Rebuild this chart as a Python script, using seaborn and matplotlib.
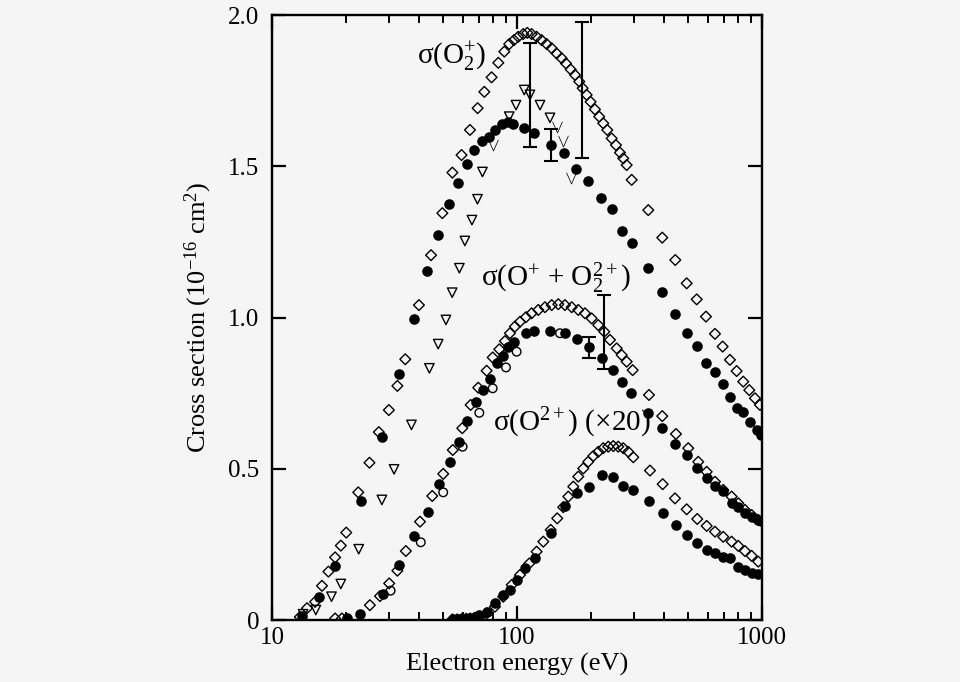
import numpy as np
import pandas as pd
import matplotlib
matplotlib.use("Agg")
import matplotlib.pyplot as plt
import seaborn as sns

# ---- sigma(O2+) ----
o2p_dia_e = [13.0, 13.9, 15.0, 16.0, 17.0, 18.1, 19.1, 20.1, 22.5, 25.0, 27.3, 30.0, 32.5, 35.0, 39.8,
             44.6, 49.6, 54.5, 59.4, 64.3, 69.1, 73.6, 78.8, 83.9, 88.8, 93.0, 97.2, 101.2, 106.1,
             110.2, 114.8, 120.3, 126.1, 132.2, 138.6, 145.2, 152.2, 158.5, 165.7, 172.5, 179.6,
             185.4, 192.5, 199.8, 208.1, 216.7, 225.0, 233.7, 243.5, 253.6, 263.3, 271.6, 280.4,
             293.9, 343.6, 391.8, 442.8, 492.9, 541.6, 590.8, 643.1, 691.1, 740.2, 788.2, 838.8,
             887.7, 936.3, 981.3]
o2p_dia_y = [0.010, 0.039, 0.060, 0.113, 0.160, 0.207, 0.246, 0.289, 0.422, 0.520, 0.621, 0.694, 0.774,
             0.862, 1.041, 1.206, 1.345, 1.479, 1.537, 1.620, 1.692, 1.746, 1.794, 1.842, 1.879,
             1.904, 1.917, 1.928, 1.937, 1.941, 1.937, 1.928, 1.917, 1.904, 1.890, 1.873, 1.857,
             1.840, 1.820, 1.802, 1.780, 1.758, 1.736, 1.713, 1.688, 1.664, 1.642, 1.620, 1.592,
             1.570, 1.545, 1.526, 1.504, 1.455, 1.355, 1.264, 1.190, 1.113, 1.060, 1.003, 0.946,
             0.904, 0.860, 0.823, 0.788, 0.760, 0.733, 0.711]

o2p_dot_e = [13.3, 15.6, 18.1, 23.0, 28.1, 33.0, 38.0, 42.8, 47.7, 52.8, 57.6, 62.6, 66.9, 71.8,
             76.9, 81.3, 86.6, 91.6, 96.6, 107.1, 117.3, 137.7, 155.5, 174.1, 195.4, 219.6, 243.5,
             269.1, 293.9, 343.6, 391.8, 442.8, 492.9, 541.6, 590.8, 643.1, 691.1, 740.2, 788.2,
             838.8, 893.3, 951.5, 990.6]
o2p_dot_y = [0.012, 0.077, 0.179, 0.394, 0.606, 0.813, 0.994, 1.155, 1.273, 1.374, 1.444, 1.506,
             1.555, 1.584, 1.596, 1.620, 1.640, 1.646, 1.640, 1.625, 1.611, 1.570, 1.543, 1.491,
             1.451, 1.394, 1.358, 1.286, 1.245, 1.163, 1.083, 1.011, 0.948, 0.906, 0.851, 0.819,
             0.780, 0.736, 0.702, 0.687, 0.656, 0.628, 0.612]

o2p_tri_e = [13.4, 15.1, 17.5, 19.1, 22.6, 28.1, 31.5, 37.1, 43.9, 47.7, 51.3, 54.4, 58.2, 61.3,
             65.5, 69.0, 72.3, 93.0, 99.1, 107.1, 113.0, 124.2, 136.4]
o2p_tri_y = [0.019, 0.033, 0.077, 0.119, 0.234, 0.397, 0.498, 0.645, 0.832, 0.912, 0.992, 1.082,
             1.163, 1.253, 1.322, 1.391, 1.481, 1.664, 1.702, 1.752, 1.736, 1.702, 1.660]

o2p_chk_e = [80.1, 146.0, 154.5, 165.7]
o2p_chk_y = [1.570, 1.631, 1.585, 1.460]

# ---- sigma(O+ + O2 2+) ----
sum_dia_e = [18.1, 19.3, 25.1, 27.6, 30.1, 32.5, 35.2, 40.2, 45.1, 50.0, 54.7, 59.8, 64.7, 69.5,
             75.2, 79.6, 84.7, 89.3, 93.6, 98.1, 102.9, 108.8, 114.8, 122.2, 130.1, 138.6, 147.5,
             157.0, 167.3, 177.9, 189.5, 201.8, 214.7, 227.2, 239.7, 255.3, 267.5, 280.4, 296.7,
             345.8, 391.8, 445.7, 500.2, 549.5, 594.8, 643.1, 695.0, 752.0, 800.5, 852.1, 907.8,
             965.8]
sum_dia_y = [0.005, 0.005, 0.049, 0.079, 0.121, 0.163, 0.228, 0.325, 0.410, 0.483, 0.562, 0.634,
             0.711, 0.768, 0.824, 0.868, 0.895, 0.922, 0.948, 0.970, 0.986, 1.001, 1.014, 1.025,
             1.034, 1.041, 1.044, 1.041, 1.034, 1.025, 1.014, 0.997, 0.975, 0.953, 0.926, 0.898,
             0.876, 0.854, 0.826, 0.744, 0.674, 0.615, 0.568, 0.523, 0.490, 0.457, 0.430, 0.408,
             0.386, 0.364, 0.347, 0.331]

sum_dot_e = [20.3, 22.9, 28.3, 33.1, 38.1, 43.2, 48.0, 53.3, 58.0, 62.3, 68.0, 72.9, 77.6, 82.6,
             87.4, 92.2, 97.2, 108.8, 117.6, 136.4, 157.0, 175.3, 197.3, 221.7, 245.8, 267.5,
             291.2, 343.6, 389.6, 441.6, 495.5, 544.4, 594.8, 643.1, 695.0, 752.0, 800.5, 852.1,
             907.8, 965.8, 990.6]
sum_dot_y = [0.005, 0.020, 0.085, 0.182, 0.278, 0.356, 0.449, 0.521, 0.587, 0.658, 0.722, 0.760,
             0.796, 0.849, 0.873, 0.903, 0.920, 0.950, 0.956, 0.956, 0.948, 0.928, 0.902, 0.865,
             0.826, 0.786, 0.749, 0.683, 0.634, 0.582, 0.545, 0.501, 0.468, 0.443, 0.425, 0.386,
             0.375, 0.353, 0.341, 0.331, 0.327]

sum_ring_e = [30.5, 40.5, 50.0, 60.0, 70.2, 79.6, 90.2, 99.7, 149.8]
sum_ring_y = [0.097, 0.257, 0.422, 0.573, 0.685, 0.766, 0.835, 0.887, 0.948]

# ---- sigma(O2+ doubly charged) x20 ----
dbl_dia_e = [54.5, 57.0, 59.5, 62.0, 64.5, 67.0, 70.6, 75.2, 81.3, 87.9, 95.2, 102.9, 112.3, 120.3,
             128.1, 137.3, 146.0, 154.5, 162.0, 169.8, 177.9, 186.5, 195.4, 204.8, 214.7, 225.0,
             235.8, 247.3, 259.1, 271.6, 284.7, 298.4, 349.1, 393.3, 441.6, 492.9, 544.4, 594.8,
             643.1, 695.0, 752.0, 800.5, 852.1, 907.8, 965.8]
dbl_dia_y = [0.002, 0.002, 0.003, 0.004, 0.005, 0.007, 0.011, 0.022, 0.044, 0.077, 0.116, 0.149,
             0.187, 0.226, 0.259, 0.298, 0.336, 0.373, 0.408, 0.441, 0.474, 0.501, 0.523, 0.542,
             0.556, 0.568, 0.573, 0.575, 0.573, 0.568, 0.556, 0.538, 0.494, 0.449, 0.402, 0.366,
             0.334, 0.311, 0.292, 0.275, 0.259, 0.245, 0.228, 0.212, 0.193]

dbl_dot_e = [55.0, 58.0, 61.0, 64.0, 67.0, 70.0, 75.2, 81.3, 87.9, 93.6, 99.7, 107.8, 118.4, 137.7,
             157.0, 176.3, 197.3, 221.7, 245.8, 271.6, 296.7, 346.8, 393.3, 445.7, 495.5, 544.4,
             594.8, 643.1, 695.0, 740.2, 800.5, 852.1, 907.8, 965.8]
dbl_dot_y = [0.003, 0.003, 0.004, 0.005, 0.008, 0.015, 0.027, 0.055, 0.083, 0.099, 0.132, 0.171,
             0.204, 0.287, 0.377, 0.421, 0.441, 0.479, 0.472, 0.444, 0.430, 0.393, 0.353, 0.314,
             0.281, 0.256, 0.231, 0.220, 0.207, 0.204, 0.176, 0.165, 0.156, 0.152]

# error bars (energy, value, half-width)
err_e = [113.0, 137.7, 183.7, 197.3, 227.2]
err_y = [1.736, 1.570, 1.752, 0.902, 0.953]
err_d = [0.172, 0.054, 0.226, 0.035, 0.122]

x_ticks = [10, 100, 1000]
x_ticklabels = ["10", "100", "1000"]
y_ticks = [0, 0.5, 1.0, 1.5, 2.0]
y_ticklabels = ["0", "0.5", "1.0", "1.5", "2.0"]

bg = "#f5f5f5"
sns.set_style("ticks")
plt.rcParams["font.family"] = ["Liberation Serif", "DejaVu Serif"]
plt.rcParams["mathtext.fontset"] = "custom"
plt.rcParams["mathtext.rm"] = "Liberation Serif"
plt.rcParams["mathtext.it"] = "Liberation Serif:italic"
for key in ["text.color", "axes.labelcolor", "xtick.color", "ytick.color",
            "xtick.labelcolor", "ytick.labelcolor", "axes.edgecolor"]:
    plt.rcParams[key] = "black"

fig = plt.figure(figsize=(9.6, 6.82), dpi=100, facecolor=bg)
ax = fig.add_axes([0.2833, 0.0909, 0.5104, 0.8871])
ax.set_facecolor(bg)

open_kw = dict(facecolor="none", edgecolor="black", linewidth=1.0)

sns.scatterplot(x=o2p_dia_e, y=o2p_dia_y, marker="D", s=30, ax=ax, zorder=3, **open_kw)
sns.scatterplot(x=o2p_tri_e, y=o2p_tri_y, marker="v", s=46, ax=ax, zorder=3, **open_kw)
sns.scatterplot(x=o2p_dot_e, y=o2p_dot_y, marker="o", s=58, color="black", linewidth=0, ax=ax, zorder=4)
sns.scatterplot(x=o2p_chk_e, y=o2p_chk_y, marker=r"$\vee$", s=70, color="black", linewidth=0, ax=ax, zorder=3)

sns.scatterplot(x=sum_dia_e, y=sum_dia_y, marker="D", s=30, ax=ax, zorder=3, **open_kw)
sns.scatterplot(x=sum_ring_e, y=sum_ring_y, marker="o", s=38, ax=ax, zorder=3, **open_kw)
sns.scatterplot(x=sum_dot_e, y=sum_dot_y, marker="o", s=58, color="black", linewidth=0, ax=ax, zorder=4)

sns.scatterplot(x=dbl_dia_e, y=dbl_dia_y, marker="D", s=30, ax=ax, zorder=3, **open_kw)
sns.scatterplot(x=dbl_dot_e, y=dbl_dot_y, marker="o", s=58, color="black", linewidth=0, ax=ax, zorder=4)

ax.errorbar(err_e, err_y, yerr=err_d, fmt="none", ecolor="black", elinewidth=1.5,
            capsize=5, capthick=1.5, zorder=5)

ax.set_xscale("log")
ax.set_xlim(10, 1000)
ax.set_ylim(0, 2.0)
ax.set_xticks(x_ticks)
ax.set_xticklabels(x_ticklabels)
ax.set_yticks(y_ticks)
ax.set_yticklabels(y_ticklabels)
ax.xaxis.set_minor_locator(matplotlib.ticker.LogLocator(base=10, subs=np.arange(2, 10)))
ax.xaxis.set_minor_formatter(matplotlib.ticker.NullFormatter())
ax.tick_params(which="major", direction="in", top=True, right=True, length=10, width=1.6,
               labelsize=18, pad=5, colors="black")
ax.tick_params(axis="y", which="major", pad=9)
ax.tick_params(which="minor", direction="in", top=True, right=True, length=6, width=1.4)
for sp in ax.spines.values():
    sp.set_visible(True)
    sp.set_linewidth(1.7)
    sp.set_color("black")

ax.set_xlabel("Electron energy (eV)", fontsize=19, labelpad=3)
ax.set_ylabel(r"Cross section (10$^{-16}$ cm$^{2}$)", fontsize=19, labelpad=10)

ax.text(54.3, 1.861, r"σ(O$_{2}^{+}$)", fontsize=21, ha="center", va="center")
ax.text(144.2, 1.131, r"σ(O$^{+}$ + O$_{2}^{2+}$)", fontsize=21, ha="center", va="center")
ax.text(167.7, 0.651, r"σ(O$^{2+}$) (×20)", fontsize=21, ha="center", va="center")

fig.savefig("out.png", dpi=100, facecolor=bg)
